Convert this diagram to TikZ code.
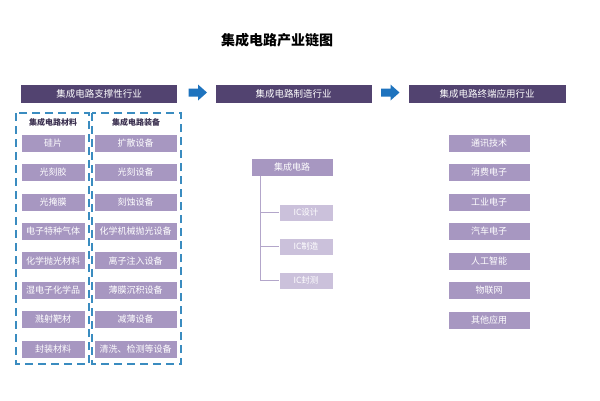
\documentclass[tikz,border=0pt]{standalone}
\usepackage{fontspec}
\setmainfont{Noto Sans CJK SC}
\definecolor{hdr}{HTML}{524370}
\definecolor{boxc}{HTML}{A797C1}
\definecolor{lightc}{HTML}{CBC1DB}
\definecolor{treec}{HTML}{B3A6CA}
\definecolor{dashc}{HTML}{3A8CC0}
\definecolor{arrc}{HTML}{1E73BE}
\definecolor{subc}{HTML}{3A2F4F}
\tikzset{
  hdrbar/.style={fill=hdr, draw=white, line width=0.4pt, minimum width=157pt, minimum height=19pt, inner sep=0pt, text=white, font=\fontsize{9.5}{10}\selectfont},
  itembox/.style={fill=boxc, draw=white, line width=0.4pt, minimum height=18pt, inner sep=0pt, text=white, font=\fontsize{9}{10}\selectfont},
  icbox/.style={fill=lightc, draw=white, line width=0.4pt, minimum width=54pt, minimum height=17pt, inner sep=0pt, text=white, font=\fontsize{8.5}{10}\selectfont},
  subhdr/.style={text=subc, font=\bfseries\fontsize{8}{9}\selectfont, inner sep=0pt},
  dashbox/.style={draw=dashc, line width=1.5pt, dash pattern=on 8pt off 5pt},
  blockarrow/.style={fill=arrc, draw=none},
  treeline/.style={draw=treec, line width=0.9pt}
}
\newcommand{\blockarr}[1]{%
  \fill[blockarrow] ($(#1)+(-9.5,-4)$) -- ($(#1)+(0,-4)$) -- ($(#1)+(0,-8)$) -- ($(#1)+(9,0)$) -- ($(#1)+(0,8)$) -- ($(#1)+(0,4)$) -- ($(#1)+(-9.5,4)$) -- cycle;}
\usetikzlibrary{calc}
\begin{document}
\begin{tikzpicture}[x=1pt,y=-1pt]
\useasboundingbox[fill=white] (0,0) rectangle (600,400);
% title
\node[font=\bfseries\fontsize{14}{16}\selectfont, text=black] (title) at (277,40) {集成电路产业链图};
% header bars
\node[hdrbar] (h1) at (99,93.5) {集成电路支撑性行业};
\node[hdrbar] (h2) at (293.5,93.5) {集成电路制造行业};
\node[hdrbar, minimum width=158pt] (h3) at (487,93.5) {集成电路终端应用行业};
\coordinate (a1) at (198,92.5);
\coordinate (a2) at (390.5,92.5);
\blockarr{a1}
\blockarr{a2}
% dashed boxes
\draw[dashbox] (16,113) rectangle (89,364);
\draw[dashbox] (92,113) rectangle (181,364);
\node[subhdr] (s1) at (53,122) {集成电路材料};
\node[subhdr] (s2) at (136,122) {集成电路装备};
% left column
\foreach \t [count=\i] in {硅片,光刻胶,光掩膜,电子特种气体,化学抛光材料,湿电子化学品,溅射靶材,封装材料}{
  \node[itembox, minimum width=64pt] (m\i) at (53,{143+29.4*(\i-1)}) {\t};
}
\foreach \t [count=\i] in {扩散设备,光刻设备,刻蚀设备,化学机械抛光设备,离子注入设备,薄膜沉积设备,减薄设备,{清洗、检测等设备}}{
  \node[itembox, minimum width=83pt] (e\i) at (135.5,{143+29.4*(\i-1)}) {\t};
}
% middle
\node[itembox, minimum width=82pt] (ic) at (292,167) {集成电路};
\node[icbox] (ic1) at (306,212.5) {IC设计};
\node[icbox] (ic2) at (306,246.5) {IC制造};
\node[icbox] (ic3) at (306,280.5) {IC封测};
\coordinate (tt) at (260,167);
\draw[treeline] (tt |- ic.south) -- (tt |- ic3.west) -- (ic3.west);
\draw[treeline] (tt |- ic1.west) -- (ic1.west);
\draw[treeline] (tt |- ic2.west) -- (ic2.west);
% right column
\foreach \t [count=\i] in {通讯技术,消费电子,工业电子,汽车电子,人工智能,物联网,其他应用}{
  \node[itembox, minimum width=82pt] (r\i) at (489,{143+29.5*(\i-1)}) {\t};
}
\end{tikzpicture}
\end{document}
